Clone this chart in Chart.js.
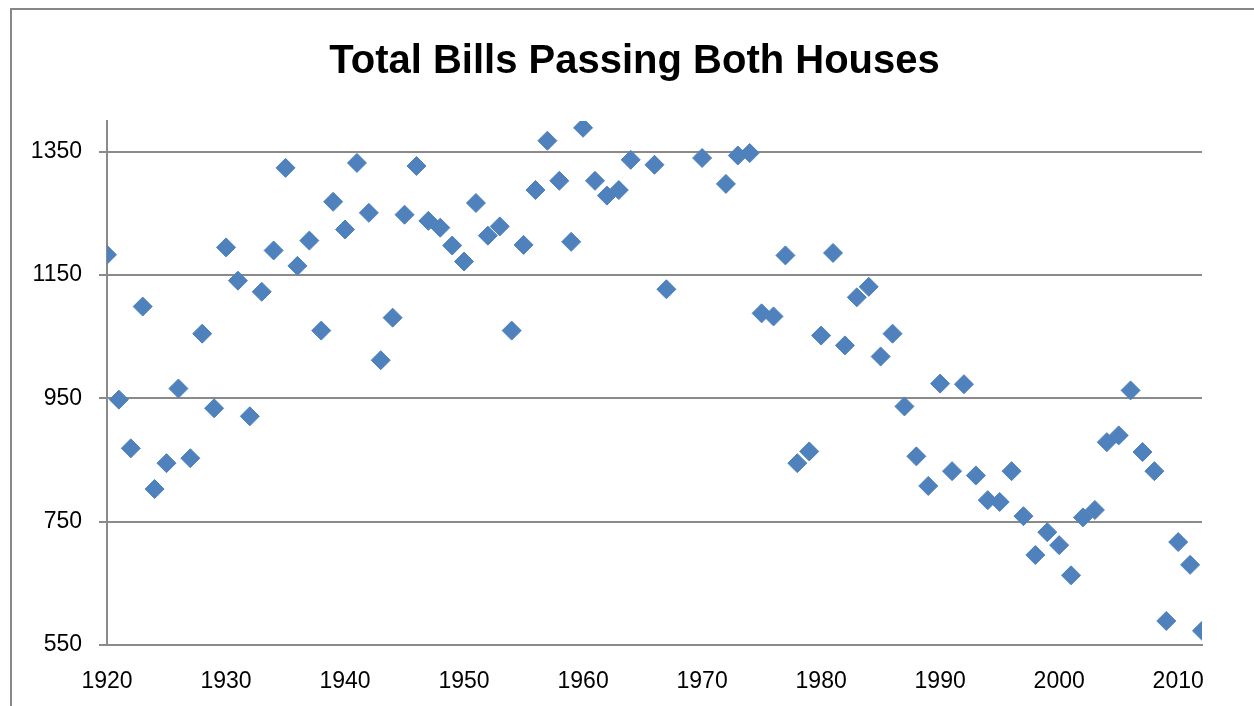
<!DOCTYPE html>
<html>
<head>
<meta charset="utf-8">
<script src="https://cdn.jsdelivr.net/npm/chart.js@4.4.0/dist/chart.umd.min.js"></script>
<style>
  html, body { margin: 0; padding: 0; background: #ffffff; }
  #wrap { position: relative; width: 1254px; height: 706px; }
  canvas { display: block; }
</style>
</head>
<body>
<div id="wrap"><canvas id="c" width="1254" height="706"></canvas></div>
<script>
// ---- Data ----
const titleText = "Total Bills Passing Both Houses";

const years = [
  1920, 1921, 1922, 1923, 1924, 1925, 1926, 1927, 1928, 1929,
  1930, 1931, 1932, 1933, 1934, 1935, 1936, 1937, 1938, 1939,
  1940, 1941, 1942, 1943, 1944, 1945, 1946, 1947, 1948, 1949,
  1950, 1951, 1952, 1953, 1954, 1955, 1956, 1957, 1958, 1959,
  1960, 1961, 1962, 1963, 1964, 1966, 1967,
  1970, 1972, 1973, 1974, 1975, 1976, 1977, 1978, 1979,
  1980, 1981, 1982, 1983, 1984, 1985, 1986, 1987, 1988, 1989,
  1990, 1991, 1992, 1993, 1994, 1995, 1996, 1997, 1998, 1999,
  2000, 2001, 2002, 2003, 2004, 2005, 2006, 2007, 2008, 2009,
  2010, 2011, 2012
];

const bills = [
  1183, 948, 869, 1099, 803, 845, 966, 853, 1055, 934,
  1195, 1141, 921, 1123, 1190, 1324, 1165, 1206, 1060, 1269,
  1224, 1332, 1251, 1012, 1081, 1248, 1327, 1238, 1227, 1198,
  1172, 1267, 1214, 1229, 1060, 1199, 1288, 1368, 1303, 1204,
  1389, 1303, 1279, 1288, 1337, 1329, 1127,
  1340, 1298, 1344, 1348, 1088, 1083, 1182, 845, 864,
  1052, 1186, 1036, 1114, 1131, 1018, 1055, 937, 856, 808,
  974, 832, 973, 825, 785, 782, 832, 759, 696, 733,
  712, 663, 757, 769, 879, 890, 963, 863, 832, 589,
  717, 680, 573
];

const xTickValues = [1920, 1930, 1940, 1950, 1960, 1970, 1980, 1990, 2000, 2010];
const yTickValues = [550, 750, 950, 1150, 1350];
const xRange = [1920, 2012];
const yRange = [550, 1400];

// ---- Styles ----
const markerColor = '#4F81BD';
const gridColor = '#8a8a8a';
const fontFamily = '"Liberation Sans", Arial, sans-serif';

const points = years.map((yr, i) => ({ x: yr, y: bills[i] }));

const framePlugin = {
  id: 'frame',
  afterLayout(chart) {
    // centre the title over the whole chart frame (as in the reference)
    const tb = chart.titleBlock;
    if (tb) { tb.left = 67; tb.right = 1202; }
  },
  beforeDraw(chart) {
    const ctx = chart.ctx;
    ctx.save();
    ctx.fillStyle = '#ffffff';
    ctx.fillRect(0, 0, chart.width, chart.height);
    ctx.strokeStyle = '#878787';
    ctx.lineWidth = 2;
    ctx.beginPath();
    ctx.moveTo(11, chart.height);
    ctx.lineTo(11, 9);
    ctx.lineTo(chart.width, 9);
    ctx.stroke();
    ctx.restore();
  }
};

new Chart(document.getElementById('c'), {
  type: 'scatter',
  data: {
    datasets: [{
      label: titleText,
      data: points,
      pointStyle: 'rectRot',
      pointRadius: 9.5,
      pointHoverRadius: 9.5,
      backgroundColor: markerColor,
      borderColor: markerColor,
      borderWidth: 1
    }]
  },
  options: {
    responsive: false,
    animation: false,
    events: [],
    layout: { padding: { left: 0, right: 52, top: 0, bottom: 0 } },
    plugins: {
      legend: { display: false },
      tooltip: { enabled: false },
      title: {
        display: true,
        text: titleText,
        color: '#000000',
        font: { family: fontFamily, size: 40, weight: 'bold', lineHeight: 1.2 },
        padding: { top: 38, bottom: 35 }
      }
    },
    scales: {
      x: {
        type: 'linear',
        min: xRange[0],
        max: xRange[1],
        afterBuildTicks: s => { s.ticks = xTickValues.map(v => ({ value: v })); },
        afterFit: s => { s.height = 61; },
        grid: { display: false, drawTicks: false },
        border: { display: true, color: gridColor, width: 2 },
        ticks: {
          color: '#000000',
          font: { family: fontFamily, size: 23 },
          padding: 23,
          maxRotation: 0,
          autoSkip: false,
          callback: v => String(v)
        }
      },
      y: {
        type: 'linear',
        min: yRange[0],
        max: yRange[1],
        afterBuildTicks: s => { s.ticks = yTickValues.map(v => ({ value: v })); },
        afterFit: s => { s.width = 107; },
        grid: { display: true, color: gridColor, lineWidth: 2, drawTicks: true, tickLength: 8 },
        border: { display: true, color: gridColor, width: 2 },
        ticks: {
          color: '#000000',
          font: { family: fontFamily, size: 23 },
          padding: 17,
          autoSkip: false,
          callback: v => String(v)
        }
      }
    }
  },
  plugins: [framePlugin]
});
</script>
</body>
</html>
